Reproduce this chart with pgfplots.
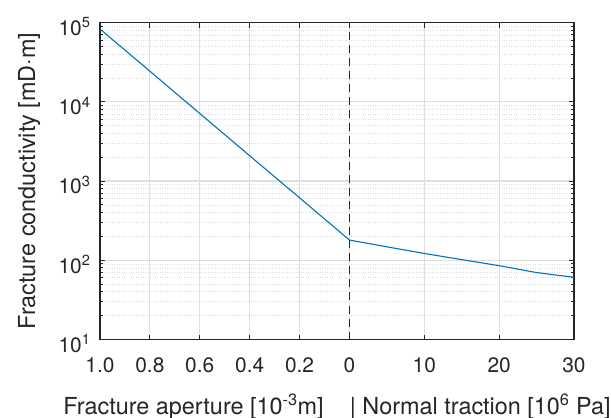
\documentclass[border=0pt]{standalone}
\usepackage{fontspec}
\setmainfont{TeX Gyre Heros}
\usepackage{pgfplots}
\pgfplotsset{compat=1.18}
\definecolor{axc}{RGB}{38,38,38}
\definecolor{gridc}{RGB}{223,223,223}
\definecolor{mblue}{RGB}{0,114,189}
\begin{document}
\begin{tikzpicture}
\useasboundingbox (-100bp,-78.5bp) rectangle (511bp,339.5bp);
\begin{axis}[
  at={(0,0)}, anchor=south west,
  scale only axis, width=474bp, height=316.8bp,
  ymode=log, xmin=0, xmax=9.5, ymin=10, ymax=100000,
  xtick={0,1,2,3,4,5,6.5,8,9.5},
  xticklabels={1.0,0.8,0.6,0.4,0.2,0,10,20,30},
  ytick={10,100,1000,10000,100000},
  yticklabels={{10\textsuperscript{1}},{10\textsuperscript{2}},{10\textsuperscript{3}},{10\textsuperscript{4}},{10\textsuperscript{5}}},
  minor ytick={20,30,40,50,60,70,80,90,200,300,400,500,600,700,800,900,2000,3000,4000,5000,6000,7000,8000,9000,20000,30000,40000,50000,60000,70000,80000,90000},
  xmajorgrids, ymajorgrids, yminorgrids,
  major grid style={gridc, line width=1.2bp},
  minor grid style={gridc, dotted, line width=0.8bp},
  axis line style={axc, line width=1.2bp},
  tick style={axc, line width=1bp},
  major tick length=5bp, minor tick length=3bp,
  tick align=inside,
  xtick pos=both, ytick pos=both,
  ticklabel style={font=\fontsize{21}{24}\selectfont, text=axc},
  xticklabel style={anchor=base, yshift=-33bp},
  yticklabel style={xshift=-6bp, yshift=-4bp},
  label style={font=\fontsize{23.5}{27}\selectfont, text=axc},
  xlabel={Fracture aperture [10\textsuperscript{-3}m]\ \ \ \ | Normal traction [10\textsuperscript{6} Pa]},
  ylabel={Fracture conductivity [mD·m]},
  xlabel style={at={(axis description cs:0.5,-0.2352)}, anchor=base},
  ylabel style={at={(axis description cs:-0.1371,0.5)}, anchor=base},
]
\addplot[axc, line width=1.1bp, dash pattern=on 8bp off 5bp] coordinates {(5,10) (5,100000)};
\addplot[mblue, line width=1.1bp] coordinates {
  (0,83200) (1,24400) (2,7140) (3,2090) (4,615) (5,180)
  (5.75,148) (6.5,122) (7.25,102) (8,85.5) (8.75,70) (9.5,61)
};
\end{axis}
\end{tikzpicture}
\end{document}
